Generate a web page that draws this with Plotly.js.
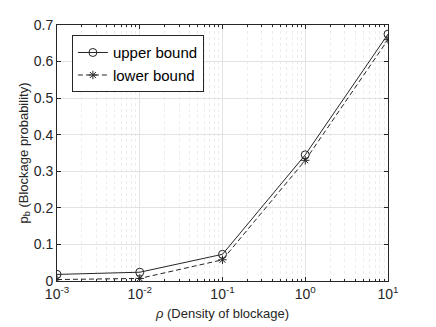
<!DOCTYPE html>
<html>
<head>
<meta charset="utf-8">
<script src="https://cdn.plot.ly/plotly-3.0.1.min.js"></script>
<style>
  html, body { margin: 0; padding: 0; background: #fff; }
  #chart { width: 436px; height: 327px; }
</style>
</head>
<body>
<div id="chart"></div>
<script>
// densities of blockage (rho)
const rho = [0.001, 0.01, 0.1, 1, 10];
// blockage probability bounds
const upperBound = [0.018, 0.024, 0.073, 0.345, 0.675];
const lowerBound = [0.004, 0.007, 0.058, 0.330, 0.660];

const xTickVals = [0.001, 0.01, 0.1, 1, 10];
const xTickText = ['10<sup>-3</sup>', '10<sup>-2</sup>', '10<sup>-1</sup>', '10<sup>0</sup>', '10<sup>1</sup>'];
const yTickVals = [0, 0.1, 0.2, 0.3, 0.4, 0.5, 0.6, 0.7];
const yTickText = ['0', '0.1', '0.2', '0.3', '0.4', '0.5', '0.6', '0.7'];

const lineColor = '#262626';

var traces = [
    {
        x: rho, y: upperBound,
        name: 'upper bound',
        mode: 'lines+markers',
        type: 'scatter',
        line: { color: lineColor, width: 1 },
        marker: { symbol: 'circle-open', size: 8, color: lineColor, line: { width: 1 } }
    },
    {
        x: rho, y: lowerBound,
        name: 'lower bound',
        mode: 'lines+markers',
        type: 'scatter',
        line: { color: lineColor, width: 1, dash: '5px,3px' },
        marker: { symbol: 'asterisk-open', size: 7, color: lineColor, line: { width: 1, color: lineColor } }
    }
];

var axisCommon = {
    showline: true,
    linecolor: '#262626',
    linewidth: 1,
    mirror: 'ticks',
    ticks: 'inside',
    ticklen: 4,
    tickcolor: '#262626',
    gridcolor: '#e3e3e3',
    gridwidth: 1,
    zeroline: false,
    tickfont: { family: 'Liberation Sans, Arial, sans-serif', size: 14, color: '#262626' }
};

var layout = {
    width: 436,
    height: 327,
    margin: { l: 57, r: 48, t: 25, b: 46 },
    paper_bgcolor: '#fff',
    plot_bgcolor: '#fff',
    font: { family: 'Liberation Sans, Arial, sans-serif', color: '#262626' },
    showlegend: true,
    legend: {
        x: 0.045, y: 0.96, xanchor: 'left', yanchor: 'top',
        bgcolor: '#fff',
        bordercolor: '#262626',
        borderwidth: 1,
        itemwidth: 30,
        font: { size: 15, color: '#000' },
        tracegroupgap: 0
    },
    xaxis: Object.assign({}, axisCommon, {
        type: 'log',
        range: [-3, 1],
        tickvals: xTickVals,
        ticktext: xTickText,
        minor: { dtick: 'D1', showgrid: true, gridcolor: '#ececec', griddash: 'dot', ticks: 'inside', ticklen: 2, tickcolor: '#262626' },
        title: { text: '<i>ρ</i> (Density of blockage)', font: { size: 13, color: '#262626' }, standoff: 8 }
    }),
    yaxis: Object.assign({}, axisCommon, {
        range: [0, 0.7],
        tickvals: yTickVals,
        ticktext: yTickText,
        title: { text: 'p<sub>b</sub> (Blockage probability)', font: { size: 13, color: '#262626' }, standoff: 2 }
    })
};

Plotly.newPlot('chart', traces, layout, { displayModeBar: false, staticPlot: true });
</script>
</body>
</html>
